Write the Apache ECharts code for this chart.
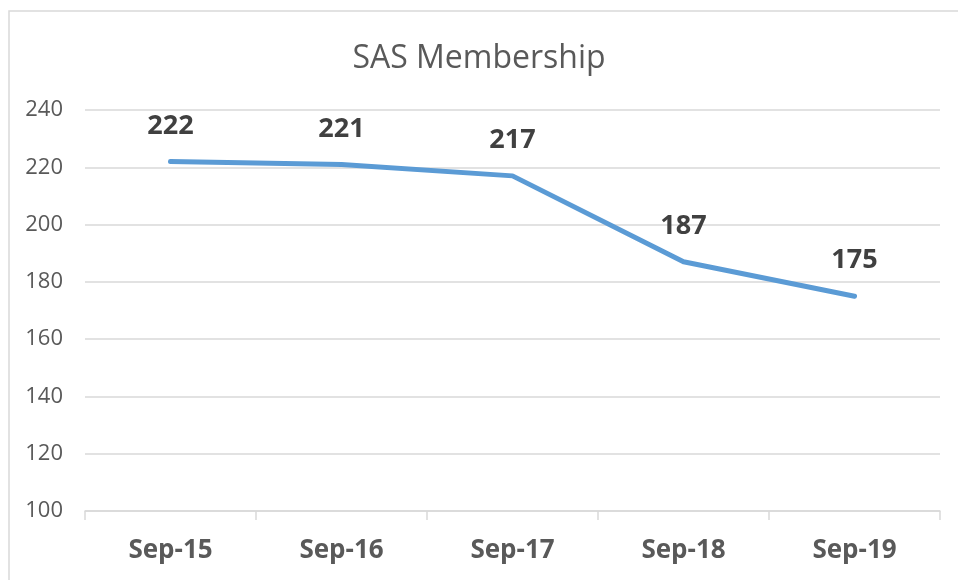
<!DOCTYPE html>
<html>
<head>
<meta charset="utf-8">
<script src="https://cdn.jsdelivr.net/npm/echarts@6/dist/echarts.min.js"></script>
<style>
	html, body { margin: 0; padding: 0; background: #fff; }
	#chart { width: 958px; height: 580px; }
</style>
</head>
<body>
<div id="chart"></div>
<script>
var categories = ['Sep-15', 'Sep-16', 'Sep-17', 'Sep-18', 'Sep-19'];
var membership = [222, 221, 217, 187, 175];

var fontName = '"Open Sans", sans-serif';

var option = {
	backgroundColor : '#fff',
	animation : false,
	title : {
		text : 'SAS Membership',
		left : 'center',
		top : 38,
		textStyle : {
			color : '#595959',
			fontSize : 32,
			fontWeight : 'normal',
			fontFamily : fontName
		}
	},
	graphic : [ {
		type : 'rect',
		shape : { x : 9, y : 11, width : 980, height : 600 },
		style : { fill : 'none', stroke : '#d9d9d9', lineWidth : 1.5 },
		silent : true
	} ],
	grid : {
		left : 85,
		right : 18,
		top : 110,
		bottom : 69
	},
	xAxis : {
		type : 'category',
		data : categories,
		boundaryGap : true,
		axisLine : {
			lineStyle : { color : '#d9d9d9', width : 1.5 }
		},
		axisTick : {
			show : true,
			length : 9,
			lineStyle : { color : '#d9d9d9', width : 1.5 }
		},
		axisLabel : {
			color : '#595959',
			fontSize : 26,
			fontWeight : 'bold',
			fontFamily : fontName,
			margin : 27
		}
	},
	yAxis : {
		type : 'value',
		min : 100,
		max : 240,
		interval : 20,
		axisLine : { show : false },
		axisTick : { show : false },
		axisLabel : {
			color : '#595959',
			fontSize : 22,
			fontFamily : fontName,
			margin : 22
		},
		splitLine : {
			lineStyle : { color : '#d9d9d9', width : 1.5 }
		}
	},
	series : [ {
		type : 'line',
		data : membership,
		symbol : 'circle',
		symbolSize : 4,
		showSymbol : true,
		itemStyle : { color : '#5b9bd5' },
		lineStyle : {
			color : '#5b9bd5',
			width : 5,
			cap : 'round',
			join : 'round'
		},
		label : {
			show : true,
			position : 'top',
			distance : 20,
			color : '#404040',
			fontSize : 27,
			fontWeight : 'bold',
			fontFamily : fontName
		}
	} ]
};

var myChart = echarts.init(document.getElementById('chart'));
myChart.setOption(option);
</script>
</body>
</html>
